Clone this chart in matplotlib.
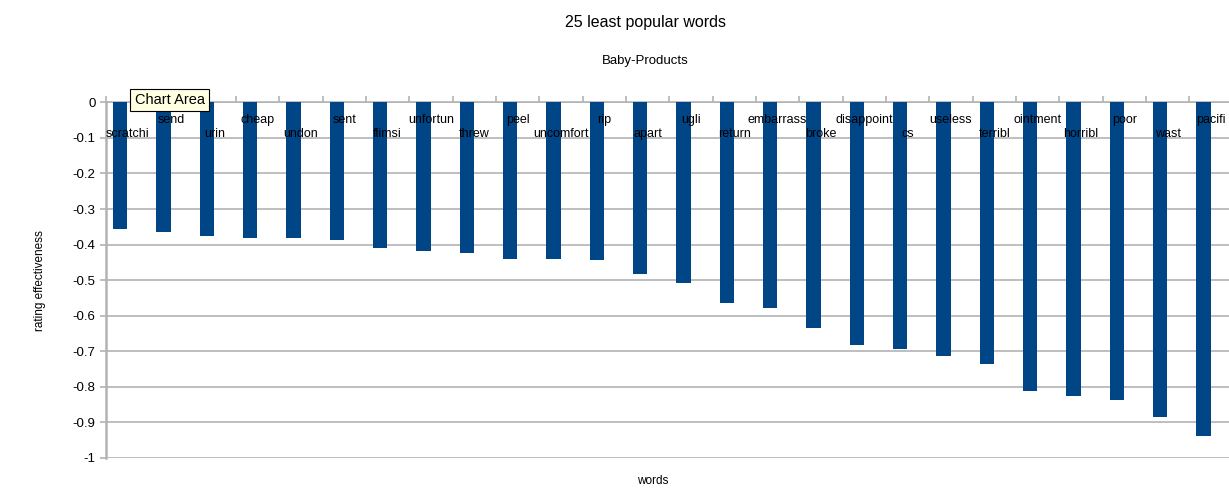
import matplotlib
matplotlib.use('Agg')
import numpy as np
import matplotlib.pyplot as plt

plt.rcParams['font.family'] = ['Liberation Sans', 'DejaVu Sans']
plt.rcParams['axes.unicode_minus'] = False

words = ['scratchi', 'send', 'urin', 'cheap', 'undon', 'sent', 'flimsi', 'unfortun',
         'threw', 'peel', 'uncomfort', 'rip', 'apart', 'ugli', 'return', 'embarrass',
         'broke', 'disappoint', 'cs', 'useless', 'terribl', 'ointment', 'horribl',
         'poor', 'wast', 'pacifi']
effectiveness = [-0.356, -0.365, -0.377, -0.381, -0.381, -0.388, -0.410, -0.418,
                 -0.424, -0.441, -0.441, -0.443, -0.482, -0.509, -0.565, -0.579,
                 -0.635, -0.683, -0.694, -0.714, -0.735, -0.811, -0.827,
                 -0.837, -0.884, -0.938]
yticks = [0, -0.1, -0.2, -0.3, -0.4, -0.5, -0.6, -0.7, -0.8, -0.9, -1]
ytick_labels = ['0', '-0.1', '-0.2', '-0.3', '-0.4', '-0.5', '-0.6', '-0.7', '-0.8', '-0.9', '-1']

bar_color = '#004586'
grid_color = '#b3b3b3'

fig = plt.figure(figsize=(12.29, 4.93), dpi=100)
ax = fig.add_axes([0.0862, 0.071, 0.9167, 0.7215])

x = np.arange(len(words))
ax.bar(x + 0.33, effectiveness, width=0.33, color=bar_color, zorder=3)

ax.set_xlim(0, len(words))
ax.set_ylim(-1, 0)
ax.set_yticks(yticks)
ax.set_yticklabels(ytick_labels, fontsize=9.5)
ax.yaxis.grid(True, color=grid_color, linewidth=1.2, zorder=0)
ax.tick_params(axis='y', length=4, width=1.2, color=grid_color, pad=3.5)

# category ticks sit on the zero line, pointing up
ax.xaxis.tick_top()
ax.set_xticks(np.arange(len(words) + 1))
ax.tick_params(axis='x', length=4, width=1.2, color=grid_color, labeltop=False)

for side in ['right', 'bottom']:
    ax.spines[side].set_visible(False)
ax.spines['left'].set_color(grid_color)
ax.spines['left'].set_linewidth(1.8)
ax.spines['top'].set_color(grid_color)
ax.spines['top'].set_linewidth(1.2)

# word labels staggered on two rows inside the plot
for i, w in enumerate(words):
    row_y = -0.09 if i % 2 == 0 else -0.05
    ax.text(i + 0.5, row_y, w, ha='center', va='center', fontsize=9, color='black', zorder=4)

ax.set_ylabel('rating effectiveness', fontsize=8.5, labelpad=19)
fig.text(0.531, 0.012, 'words', ha='center', va='bottom', fontsize=8.5)

fig.text(0.525, 0.955, '25 least popular words', ha='center', va='center', fontsize=11.5)
fig.text(0.525, 0.876, 'Baby-Products', ha='center', va='center', fontsize=9.5)

fig.text(0.1095, 0.797, 'Chart Area', ha='left', va='center', fontsize=10.5,
         bbox=dict(boxstyle='square,pad=0.3', facecolor='#ffffe1', edgecolor='black', linewidth=0.8),
         zorder=10)

plt.savefig('out.png')
